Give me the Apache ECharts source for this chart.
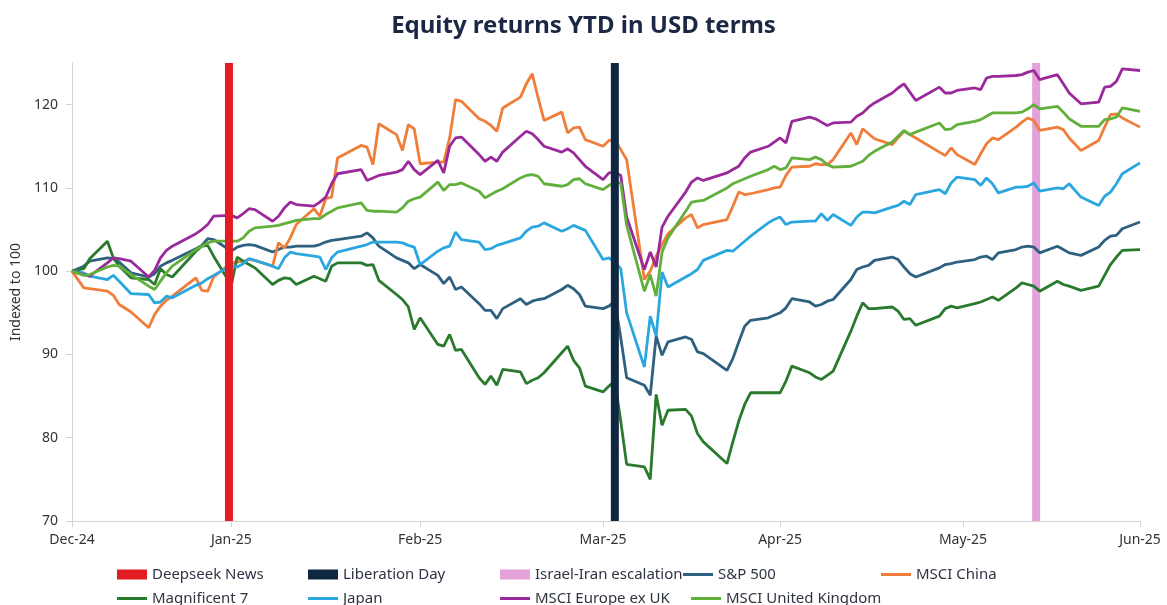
<!DOCTYPE html>
<html>
<head>
<meta charset="utf-8">
<script src="https://cdn.jsdelivr.net/npm/echarts@6/dist/echarts.min.js"></script>
<style>
  html, body { margin: 0; padding: 0; background: #fff; }
  #chart { width: 1167px; height: 605px; }
</style>
</head>
<body>
<div id="chart"></div>
<script>
  // x positions: calendar days after 31 Dec 2024 (trading days)
  const days = [0, 2, 3, 6, 7, 8, 10, 13, 14, 15, 16, 17, 21, 22, 23, 24, 27, 28, 29, 30, 31,
    34, 35, 36, 37, 38, 41, 42, 43, 44, 45, 49, 50, 51, 52, 55, 56, 57, 58, 59,
    62, 63, 64, 65, 66, 69, 70, 71, 72, 73, 76, 77, 78, 79, 80, 83, 84, 85, 86, 87, 90,
    91, 92, 93, 94, 97, 98, 99, 100, 101, 104, 105, 106, 107, 111, 112, 113, 114, 115, 118, 119, 120,
    121, 122, 125, 126, 127, 128, 129, 132, 133, 134, 135, 136, 139, 140, 141, 142, 143, 147, 148, 149, 150,
    153, 154, 155, 156, 157, 160, 161, 162, 163, 164, 167, 168, 169, 171, 174, 175, 176, 177, 178, 181]

  const xTickDays = [0, 27, 59, 90, 120, 151, 181]
  const xTickLabels = ['Dec-24', 'Jan-25', 'Feb-25', 'Mar-25', 'Apr-25', 'May-25', 'Jun-25']
  const yTicks = [70, 80, 90, 100, 110, 120]

  const eventNames = ['Deepseek News', 'Liberation Day', 'Israel-Iran escalation']
  const eventDays = [26.6, 92, 163.4]

  const sp500 = [100, 100.6, 101.2, 101.6, 101.5, 101.1, 99.8, 99.3, 99.7, 100.6, 101, 101.3, 102.7, 103.1, 103.9, 103.8, 102.4, 102.9, 103.1, 103.2, 103.1,
    102.3, 102.6, 102.9, 102.9, 103, 103, 103.2, 103.5, 103.7, 103.8, 104.2, 104.6, 104, 103, 101.6, 101.3, 101, 100.3, 100.8,
    99.5, 98.5, 99.3, 97.8, 98.1, 96.1, 95.3, 95.3, 94.3, 95.5, 96.7, 96, 96.4, 96.6, 96.7, 97.8, 98.3, 97.9, 97.2, 95.8, 95.5,
    95.8, 96.4, 92, 87.2, 86.3, 85.1, 92.2, 89.9, 91.5, 92.1, 91.8, 90.3, 90.1, 88.1, 89.5, 91.5, 93.4, 94.1, 94.4, 94.7, 95,
    95.6, 96.7, 96.3, 95.8, 96, 96.4, 96.6, 99, 100.2, 100.5, 100.7, 101.3, 101.7, 101.4, 100.5, 99.7, 99.3, 100.4, 100.8, 100.9, 101.1,
    101.4, 101.7, 101.8, 101.4, 102.2, 102.6, 102.9, 103, 102.9, 102.2, 103, 102.6, 102.2, 101.9, 102.9, 103.7, 104.2, 104.3, 105.1, 105.9]

  const msciChina = [100, 98, 97.9, 97.6, 97.1, 96, 95.1, 93.2, 94.8, 95.8, 96.5, 97, 99.2, 97.7, 97.6, 99.3, 101, 101.1, 101.2, 101.4, 101.3,
    100.6, 103.4, 102.8, 104, 105.6, 107.5, 106.6, 108.7, 108.9, 113.6, 115.1, 114.9, 112.8, 117.7, 116.4, 114.5, 117.6, 117.1, 112.9,
    113.1, 113.1, 116, 120.6, 120.4, 118.3, 118, 117.5, 116.8, 119.6, 120.9, 122.5, 123.7, 120.8, 118.1, 119.1, 116.6, 117.2, 117.3, 115.8, 115,
    115.7, 115.8, 114.6, 113.4, 99, 100, 101.8, 103.2, 104.5, 106.4, 106.8, 105.2, 105.6, 106.2, 107.8, 109.5, 109.2, 109.3, 109.8, 110, 110.1,
    111.5, 112.5, 112.6, 112.9, 112.8, 112.8, 113.4, 116.6, 115.2, 117.1, 116.5, 115.9, 115.2, 116, 116.8, 116.4, 116, 114.3, 113.9, 114.8, 114,
    112.8, 114.1, 115.3, 116, 115.8, 117.3, 117.9, 118.4, 118.1, 116.9, 117.3, 117, 116, 114.5, 115.7, 117.3, 118.8, 118.9, 118.4, 117.3]

  const mag7 = [100, 100.3, 101.5, 103.6, 101.6, 100.6, 99.2, 99, 98.4, 100.3, 99.6, 99.3, 102.4, 103, 103.1, 101.8, 98.3, 101.7, 101.2, 100.8, 100.4,
    98.4, 98.9, 99.2, 99.1, 98.4, 99.4, 99.1, 98.8, 100.6, 101, 101, 100.7, 100.8, 98.9, 97.2, 96.6, 95.7, 93, 94.4,
    91.2, 91, 92.4, 90.5, 90.6, 87.2, 86.4, 87.4, 86.3, 88.2, 87.9, 86.5, 86.9, 87.2, 87.8, 90.2, 91, 89.3, 88.4, 86.2, 85.5,
    86.2, 86.8, 82, 76.8, 76.5, 75, 85.2, 81.5, 83.3, 83.4, 82.6, 80.5, 79.5, 76.9, 79.5, 82, 84, 85.4, 85.4, 85.4, 85.4,
    86.8, 88.6, 87.8, 87.3, 87, 87.5, 88, 92.8, 94.6, 96.2, 95.5, 95.5, 95.7, 95.2, 94.2, 94.3, 93.5, 94.6, 95.5, 95.8, 95.6,
    96.1, 96.3, 96.6, 96.9, 96.5, 98, 98.6, 98.4, 98.2, 97.6, 98.8, 98.4, 98.2, 97.7, 98.2, 99.5, 100.8, 101.7, 102.5, 102.6]

  const japan = [100, 99.8, 99.4, 99, 99.5, 98.8, 97.3, 97.2, 96.2, 96.3, 97, 96.8, 98.3, 98.6, 99.1, 99.5, 100.7, 100.5, 100.9, 101.5, 101.3,
    100.6, 100.3, 101.6, 102.3, 102.1, 101.8, 101.7, 100.2, 101.6, 102.3, 103, 103.2, 103.5, 103.5, 103.5, 103.4, 103.1, 102.9, 100.8,
    102.4, 102.8, 103, 104.7, 103.8, 103.5, 102.6, 102.7, 103.1, 103.3, 104, 104.8, 105.3, 105.4, 105.8, 104.8, 105.1, 105.5, 105.2, 104.9, 101.4,
    101.6, 101.1, 100.3, 95, 88.5, 94.6, 92.2, 99.9, 98.1, 99.3, 99.7, 100.2, 101.3, 102.5, 102.4, 103, 103.6, 104.2, 105.8, 106.2, 106.5,
    105.6, 105.9, 106, 106, 106.9, 106.1, 106.8, 105.5, 106.5, 107.1, 107.1, 107, 107.7, 107.9, 108.4, 108, 109.2, 109.8, 109.3, 110.6, 111.3,
    111, 110.3, 111.2, 110.5, 109.4, 110.1, 110.1, 110.2, 110.6, 109.6, 110, 109.9, 110.5, 108.9, 107.9, 109, 109.5, 110.5, 111.7, 113]

  const europeExUk = [100, 99.6, 99.4, 101, 101.6, 101.5, 101.2, 99.3, 100.1, 101.6, 102.5, 103, 104.5, 105, 105.6, 106.6, 106.7, 106.4, 106.9, 107.5, 107.4,
    106, 106.6, 107.6, 108.3, 108, 107.8, 108.3, 108.9, 110.5, 111.7, 112.2, 110.9, 111.2, 111.5, 111.9, 112.2, 113.2, 112.2, 111.6,
    113.3, 111.8, 115, 116, 116.1, 114, 113.2, 113.7, 113.2, 114.3, 116.2, 116.8, 116.5, 115.8, 115, 114.3, 114.7, 114.2, 113.4, 112.6, 111,
    111.8, 111.9, 111.5, 106.5, 100.2, 102.3, 100.5, 105.3, 106.6, 109.5, 110.7, 111.2, 110.9, 111.8, 112.2, 112.6, 113.6, 114.3, 115, 115.5, 116,
    115.4, 118, 118.5, 118.3, 117.9, 117.5, 117.8, 117.9, 118.6, 119, 119.7, 120.2, 121.4, 122, 122.5, 121.5, 120.5, 122.1, 121.4, 121.4, 121.7,
    122, 121.8, 123.2, 123.4, 123.4, 123.5, 123.6, 123.9, 124.1, 123, 123.6, 122.5, 121.4, 120.1, 120.3, 122.1, 122.2, 122.8, 124.3, 124.1]

  const msciUk = [100, 99.5, 99.6, 100.5, 100.7, 100.6, 99.6, 98.2, 97.8, 98.8, 99.8, 100.6, 102.6, 103, 103.4, 103.6, 103.6, 103.6, 104, 104.8, 105.2,
    105.4, 105.5, 105.7, 105.9, 106.1, 106.3, 106.3, 106.8, 107.2, 107.6, 108.2, 107.3, 107.2, 107.2, 107.1, 107.6, 108.4, 108.7, 108.9,
    110.7, 109.7, 110.4, 110.4, 110.6, 109.6, 108.8, 109.2, 109.6, 109.9, 111.2, 111.5, 111.6, 111.4, 110.5, 110.2, 110.4, 111, 111.1, 110.5, 109.8,
    110.3, 110.6, 110.6, 105.5, 97.6, 99.6, 97, 102.3, 104, 107.2, 108.3, 108.4, 108.5, 110, 110.5, 110.8, 111.1, 111.4, 112.2, 112.6, 112.2,
    112.4, 113.6, 113.4, 113.7, 113.4, 112.8, 112.5, 112.6, 112.9, 113.2, 113.9, 114.4, 115.5, 116.2, 116.9, 116.4, 116.7, 117.8, 117, 117.1, 117.6,
    118, 118.2, 118.6, 119, 119, 119, 119.1, 119.5, 120, 119.5, 119.8, 119.1, 118.3, 117.4, 117.4, 118.2, 118.3, 118.5, 119.6, 119.2]

  const fontFamily = '"Noto Sans", "DejaVu Sans", sans-serif'

  function pairs(values) {
    return days.map(function(d, i) { return [d, values[i]] })
  }

  function lineSeries(name, values, color) {
    return {
      name: name,
      type: 'line',
      data: pairs(values),
      symbol: 'none',
      color: color,
      itemStyle: { color: color },
      lineStyle: { width: 2.8, color: color },
      z: 3
    }
  }

  function eventSeries(i, color, z) {
    return {
      name: eventNames[i],
      type: 'line',
      data: [[eventDays[i], 70], [eventDays[i], 125]],
      symbol: 'none',
      color: color,
      itemStyle: { color: color },
      lineStyle: { width: 8, color: color, cap: 'butt' },
      z: z
    }
  }

  // one legend box per entry, so each sits where the reference puts it
  function legendItem(left, top, name, iconHeight) {
    return {
      left: left,
      top: top,
      padding: 0,
      itemWidth: 30,
      itemHeight: iconHeight,
      itemGap: 0,
      itemTextGap: 2,
      icon: 'rect',
      textStyle: { fontSize: 15, color: '#2f3442', fontFamily: fontFamily },
      data: [name]
    }
  }

  function initChart() {
    const chart = echarts.init(document.getElementById('chart'))
    const row1 = 567
    const row2 = 591
    const option = {
      animation: false,
      backgroundColor: '#fff',
      title: {
        text: 'Equity returns YTD in USD terms',
        left: 'center',
        top: 9,
        textStyle: { fontSize: 24, fontWeight: 'bold', color: '#1b2845', fontFamily: fontFamily }
      },
      grid: { left: 72, right: 27, top: 63, bottom: 84 },
      xAxis: {
        type: 'value',
        min: 0,
        max: 181,
        axisLine: { show: true, lineStyle: { color: '#d4d4d4', width: 1 } },
        axisTick: { show: true, length: 6, customValues: xTickDays, lineStyle: { color: '#d4d4d4' } },
        axisLabel: {
          customValues: xTickDays,
          margin: 12,
          fontSize: 14,
          color: '#333',
          fontFamily: fontFamily,
          formatter: function(v) {
            const i = xTickDays.indexOf(v)
            return i >= 0 ? xTickLabels[i] : ''
          }
        },
        splitLine: { show: false }
      },
      yAxis: {
        type: 'value',
        min: 70,
        max: 125,
        name: 'Indexed to 100',
        nameLocation: 'middle',
        nameGap: 46,
        nameTextStyle: { fontSize: 14, color: '#333', fontFamily: fontFamily },
        axisLine: { show: true, lineStyle: { color: '#d4d4d4', width: 1 } },
        axisTick: { show: true, length: 6, customValues: yTicks, lineStyle: { color: '#d4d4d4' } },
        axisLabel: { customValues: yTicks, margin: 14, fontSize: 14, color: '#333', fontFamily: fontFamily },
        splitLine: { show: false }
      },
      legend: [
        legendItem(117, row1, eventNames[0], 10),
        legendItem(308, row1, eventNames[1], 10),
        legendItem(500, row1, eventNames[2], 10),
        legendItem(683, row1, 'S&P 500', 3),
        legendItem(881, row1, 'MSCI China', 3),
        legendItem(117, row2, 'Magnificent 7', 3),
        legendItem(308, row2, 'Japan', 3),
        legendItem(500, row2, 'MSCI Europe ex UK', 3),
        legendItem(691, row2, 'MSCI United Kingdom', 3)
      ],
      series: [
        eventSeries(2, '#e3a0d9', 1),
        lineSeries('S&P 500', sp500, '#2e6080'),
        lineSeries('MSCI China', msciChina, '#f07d3a'),
        lineSeries('Magnificent 7', mag7, '#2a7a2e'),
        lineSeries('Japan', japan, '#2aa7df'),
        lineSeries('MSCI Europe ex UK', europeExUk, '#9a2a9c'),
        lineSeries('MSCI United Kingdom', msciUk, '#62b03c'),
        eventSeries(0, '#e31b23', 5),
        eventSeries(1, '#0f2841', 5)
      ]
    }
    chart.setOption(option)
  }

  initChart()
</script>
</body>
</html>
